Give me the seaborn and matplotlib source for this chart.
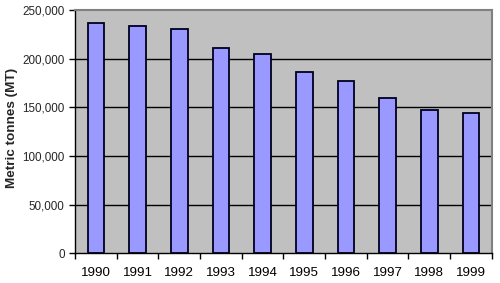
import matplotlib
matplotlib.use("Agg")
import matplotlib.pyplot as plt
import seaborn as sns
import pandas as pd
from matplotlib.ticker import FuncFormatter, FixedLocator

years = ["1990", "1991", "1992", "1993", "1994", "1995", "1996", "1997", "1998", "1999"]
tonnes = [237000, 234000, 230000, 211000, 205000, 186000, 177000, 160000, 147000, 144000]
y_ticks = [0, 50000, 100000, 150000, 200000, 250000]

df = pd.DataFrame({"year": years, "tonnes": tonnes})

sns.set_style("white")
plt.rcParams["font.family"] = ["Liberation Sans", "DejaVu Sans"]

fig = plt.figure(figsize=(5.0, 2.83), dpi=100)
ax = fig.add_axes([0.15, 0.1046, 0.8334, 0.8601])
ax.set_facecolor("#C0C0C0")

ax.set_axisbelow(True)
for v in y_ticks[1:-1]:
    ax.axhline(v, color="black", linewidth=1.0, zorder=0.5)

sns.barplot(data=df, x="year", y="tonnes", color="#9999FF", edgecolor="#000020",
            linewidth=1.3, width=0.4, saturation=1, ax=ax, zorder=2)

ax.set_xlim(-0.5, len(years) - 0.5)
ax.set_ylim(0, 250000)
ax.set_yticks(y_ticks)
ax.yaxis.set_major_formatter(FuncFormatter(lambda v, p: f"{int(v):,}"))
ax.xaxis.set_minor_locator(FixedLocator([i - 0.5 for i in range(len(years) + 1)]))
ax.tick_params(axis="x", which="major", bottom=True, length=0, labelsize=9.6, pad=9.5,
               colors="black")
ax.tick_params(axis="x", which="minor", bottom=True, length=4, width=1, color="black",
               direction="out")
ax.tick_params(axis="y", which="major", left=True, length=4, width=1, labelsize=8.4,
               color="black", direction="out", pad=3.5)
ax.set_xlabel("")
ax.set_ylabel("Metric tonnes (MT)", fontsize=9.7, fontweight="bold")
ax.yaxis.set_label_coords(-0.136, 0.515)

for s in ["left", "bottom"]:
    ax.spines[s].set_color("black")
    ax.spines[s].set_linewidth(1.0)
for s in ["top", "right"]:
    ax.spines[s].set_visible(True)
    ax.spines[s].set_color("#808080")
    ax.spines[s].set_linewidth(1.5)

fig.savefig("out.png", dpi=100)
